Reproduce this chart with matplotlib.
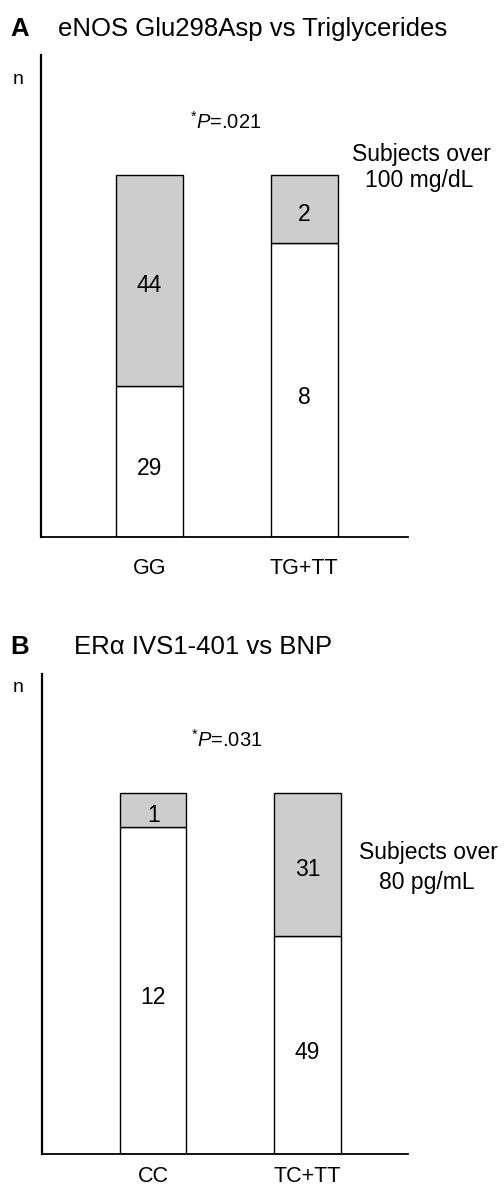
"""Two stacked-proportion bar panels: genotype vs subjects over a cut-off."""
import matplotlib

matplotlib.use("Agg")
import matplotlib.pyplot as plt

plt.rcParams["font.family"] = ["Liberation Sans", "DejaVu Sans"]
plt.rcParams["mathtext.fontset"] = "custom"
plt.rcParams["mathtext.rm"] = "Liberation Sans"
plt.rcParams["mathtext.it"] = "Liberation Sans:italic"

# Panel A: eNOS Glu298Asp vs triglycerides
A_GENOTYPES = ["GG", "TG+TT"]
A_BELOW_COUNT = [29, 8]
A_ABOVE_COUNT = [44, 2]
A_BELOW_HEIGHT = [41.7, 81.2]   # bar heights (% of bar)
A_ABOVE_HEIGHT = [58.3, 18.8]
A_PVALUE = ".021"
A_CUTOFF = "100 mg/dL"

# Panel B: ERalpha IVS1-401 vs BNP
B_GENOTYPES = ["CC", "TC+TT"]
B_BELOW_COUNT = [12, 49]
B_ABOVE_COUNT = [1, 31]
B_BELOW_HEIGHT = [90.6, 60.4]
B_ABOVE_HEIGHT = [9.4, 39.6]
B_PVALUE = ".031"
B_CUTOFF = "80 pg/mL"

W, H = 504, 1186
GRAY = "#cdcdcd"


def fx(px):
    return px / W


def fy(py):
    return 1 - py / H


def panel(fig, rect, genotypes, below, above, below_n, above_n, pad, left):
    ax = fig.add_axes(rect)
    x = range(len(genotypes))
    ax.bar(x, below, width=0.43, color="white", edgecolor="black", linewidth=1.0)
    ax.bar(x, above, width=0.43, bottom=below, color=GRAY, edgecolor="black", linewidth=1.0)
    for i in x:
        ax.text(i, below[i] / 2 - 2, str(below_n[i]), ha="center", va="center", fontsize=16.5)
        ax.text(i, below[i] + above[i] / 2 - 1.5, str(above_n[i]), ha="center", va="center",
                fontsize=16.5)
    ax.set_xlim(left, left + 2.37)
    ax.set_ylim(0, 133)
    ax.set_xticks(list(x), genotypes, fontsize=15.5)
    ax.tick_params(axis="x", length=0, pad=pad)
    ax.set_yticks([])
    for side in ("top", "right"):
        ax.spines[side].set_visible(False)
    ax.spines["left"].set_linewidth(1.6)
    ax.spines["bottom"].set_linewidth(1.3)
    return ax


fig = plt.figure(figsize=(W / 100, H / 100), dpi=100)

# panel A
panel(fig, [fx(41), fy(537), fx(408 - 41), (537 - 55) / H], A_GENOTYPES,
      A_BELOW_HEIGHT, A_ABOVE_HEIGHT, A_BELOW_COUNT, A_ABOVE_COUNT, pad=15, left=-0.70)
fig.text(fx(10), fy(29), "A", fontsize=18.5, fontweight="bold", va="center")
fig.text(fx(58), fy(29), "eNOS Glu298Asp vs Triglycerides", fontsize=18.5, va="center")
fig.text(fx(13), fy(80), "n", fontsize=14, va="center")
fig.text(fx(226), fy(122), r"$^{*}P$=" + A_PVALUE, fontsize=14.5, ha="center", va="center")
fig.text(fx(421), fy(155), "Subjects over", fontsize=16.5, ha="center", va="center")
fig.text(fx(419), fy(180), A_CUTOFF, fontsize=16.5, ha="center", va="center")

# panel B
panel(fig, [fx(42), fy(1154), fx(408 - 42), (1154 - 674) / H], B_GENOTYPES,
      B_BELOW_HEIGHT, B_ABOVE_HEIGHT, B_BELOW_COUNT, B_ABOVE_COUNT, pad=9, left=-0.72)
fig.text(fx(10), fy(647), "B", fontsize=18.5, fontweight="bold", va="center")
fig.text(fx(74), fy(647), "ER\u03b1 IVS1-401 vs BNP", fontsize=18.5, va="center")
fig.text(fx(13), fy(688), "n", fontsize=14, va="center")
fig.text(fx(227), fy(740), r"$^{*}P$=" + B_PVALUE, fontsize=14.5, ha="center", va="center")
fig.text(fx(428), fy(852), "Subjects over", fontsize=16.5, ha="center", va="center")
fig.text(fx(427), fy(882), B_CUTOFF, fontsize=16.5, ha="center", va="center")

fig.savefig("out.png", dpi=100)
